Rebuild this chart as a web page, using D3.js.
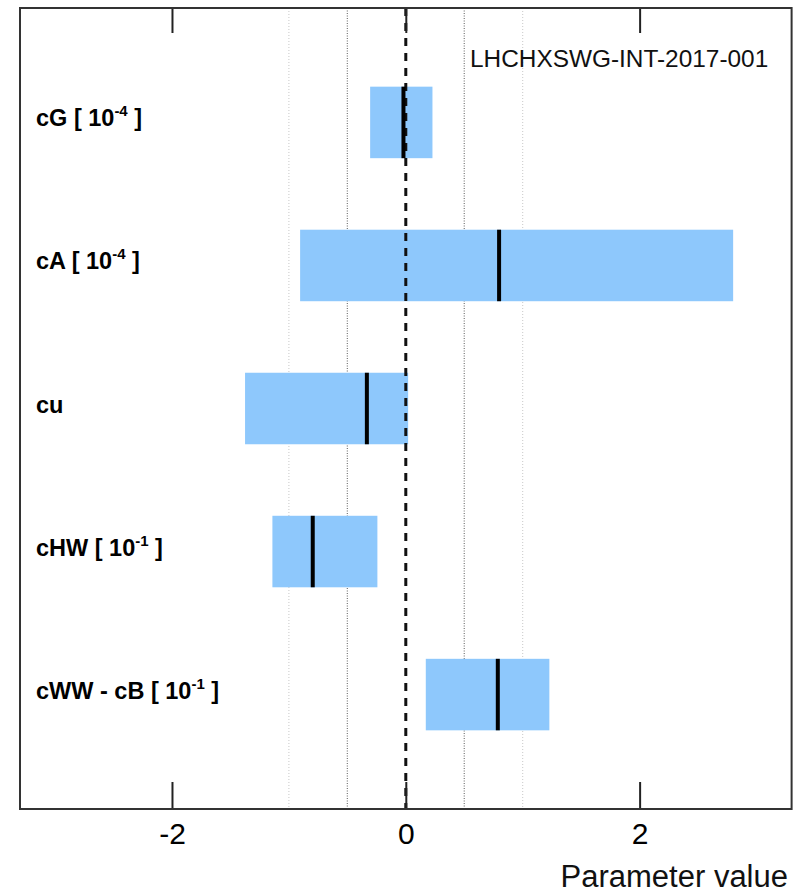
<!DOCTYPE html>
<html>
<head>
<meta charset="utf-8">
<script src="https://cdn.jsdelivr.net/npm/d3@7"></script>
<style>
  html, body { margin: 0; padding: 0; background: #fff; }
  svg { display: block; font-family: "Liberation Sans", Arial, Helvetica, sans-serif; }
</style>
</head>
<body>
<svg id="chart" width="806" height="895"></svg>
<script>
// ---- data ----
const params    = ["cG", "cA", "cu", "cHW", "cWW - cB"];
const exponents = ["-4", "-4", null, "-1", "-1"];
const lows      = [-0.305, -0.904, -1.375, -1.141, 0.171];
const highs     = [0.228, 2.800, 0.020, -0.243, 1.228];
const bestFit   = [-0.020, 0.798, -0.333, -0.796, 0.787];
const xTicks    = [-2, 0, 2];
const gridInner = [-0.5, 0.5];
const gridOuter = [-1, 1];
const xDomain   = [-3.3, 3.3];
const refLabel  = "LHCHXSWG-INT-2017-001";
const xTitle    = "Parameter value";

// ---- layout ----
const svg = d3.select("#chart");
const L = 20, R = 791.6, T = 8, B = 809;

const x = d3.scaleLinear().domain(xDomain).range([L, R]);
const y = d3.scaleBand().domain(params).range([T, B]).paddingInner(0.5).paddingOuter(0.55);

const rows = params.map((p, i) => ({ p, exp: exponents[i], lo: lows[i], hi: highs[i], bf: bestFit[i] }));

// grid lines
svg.append("g").selectAll("line").data(gridOuter).join("line")
  .attr("x1", d => x(d)).attr("x2", d => x(d)).attr("y1", T).attr("y2", B)
  .attr("stroke", "#c8c8c8").attr("stroke-width", 1).attr("stroke-dasharray", "1,2");
svg.append("g").selectAll("line").data(gridInner).join("line")
  .attr("x1", d => x(d)).attr("x2", d => x(d)).attr("y1", T).attr("y2", B)
  .attr("stroke", "#777").attr("stroke-width", 1.2).attr("stroke-dasharray", "1,1.5");

// bars
svg.append("g").selectAll("rect").data(rows).join("rect")
  .attr("x", d => x(d.lo)).attr("width", d => x(d.hi) - x(d.lo))
  .attr("y", d => y(d.p)).attr("height", y.bandwidth())
  .attr("fill", "#8ec8fc");

// zero dashed line
svg.append("line")
  .attr("x1", x(0)).attr("x2", x(0)).attr("y1", T).attr("y2", B)
  .attr("stroke", "#111").attr("stroke-width", 3).attr("stroke-dasharray", "8,7");

// best fit lines
svg.append("g").selectAll("line").data(rows).join("line")
  .attr("x1", d => x(d.bf)).attr("x2", d => x(d.bf))
  .attr("y1", d => y(d.p)).attr("y2", d => y(d.p) + y.bandwidth())
  .attr("stroke", "#000").attr("stroke-width", 4);

// axes
const axB = svg.append("g").attr("transform", `translate(0,${B})`)
  .call(d3.axisBottom(x).tickValues(xTicks).tickSizeInner(-27).tickSizeOuter(0).tickPadding(14).tickFormat(d3.format("d")));
axB.select(".domain").remove();
axB.selectAll(".tick line").attr("stroke", "#222").attr("stroke-width", 2);
axB.selectAll(".tick text").attr("font-size", 30).attr("fill", "#000")
  .style("font-family", "'Liberation Sans', Arial, sans-serif").text(d => d < 0 ? "-" + Math.abs(d) : d);

const axT = svg.append("g").attr("transform", `translate(0,${T})`)
  .call(d3.axisTop(x).tickValues(xTicks).tickSizeInner(-25).tickSizeOuter(0).tickFormat(""));
axT.select(".domain").remove();
axT.selectAll(".tick line").attr("stroke", "#222").attr("stroke-width", 2);

// frame
svg.append("rect").attr("x", L).attr("y", T).attr("width", R - L).attr("height", B - T)
  .attr("fill", "none").attr("stroke", "#333").attr("stroke-width", 2);

// row labels
const lab = svg.append("g").selectAll("text").data(rows).join("text")
  .attr("x", 36).attr("y", d => y(d.p) + y.bandwidth() / 2 + 4)
  .attr("font-size", 23.5).attr("font-weight", "bold").attr("fill", "#000")
  .attr("xml:space", "preserve");
lab.each(function(d) {
  const t = d3.select(this);
  if (d.exp) {
    t.append("tspan").text(d.p + " [ 10");
    t.append("tspan").attr("dy", -10).attr("font-size", 15).text(d.exp);
    t.append("tspan").attr("dy", 10).text("\u00A0]");
  } else {
    t.text(d.p);
  }
});

// reference label
svg.append("text").attr("x", 470).attr("y", 66.5).attr("font-size", 24.4).attr("fill", "#111").text(refLabel);

// x title
svg.append("text").attr("x", 788).attr("y", 887).attr("text-anchor", "end")
  .attr("font-size", 31).attr("fill", "#111").text(xTitle);
</script>
</body>
</html>
